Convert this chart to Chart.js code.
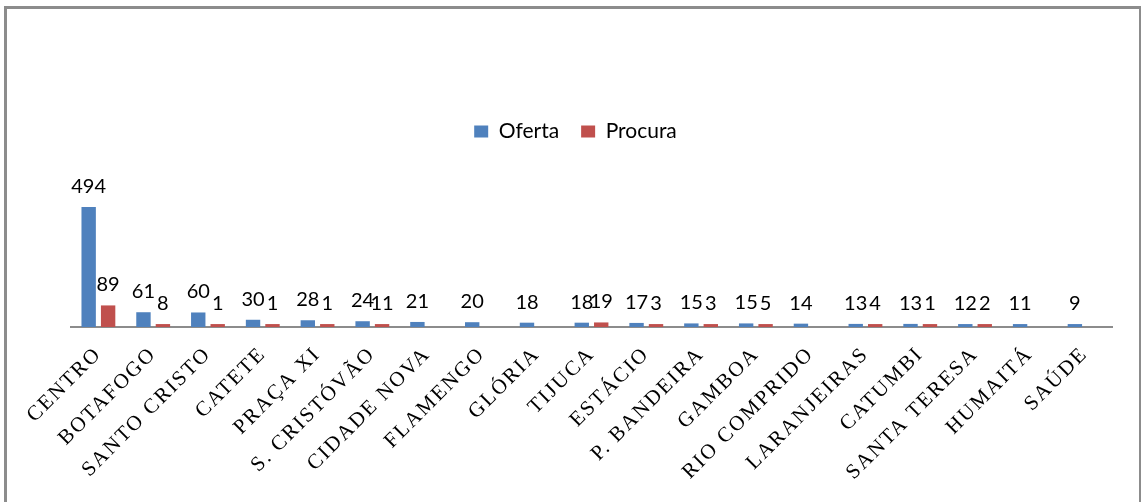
<!DOCTYPE html>
<html>
<head>
<meta charset="utf-8">
<script src="https://cdn.jsdelivr.net/npm/chart.js@4"></script>
<style>
  html, body { margin: 0; padding: 0; background: #fff; overflow: hidden; }
  #frame { position: absolute; left: 4px; top: 6px; width: 1132px; height: 600px;
           border: 3px solid #8c8c8c; border-bottom: none; }
  #wrap { position: absolute; left: 0; top: 0; width: 1141px; height: 502px; }
</style>
</head>
<body>
<div id="frame"></div>
<div id="wrap"><canvas id="c" width="1141" height="502"></canvas></div>
<script>
const categories = ["CENTRO", "BOTAFOGO", "SANTO CRISTO", "CATETE", "PRAÇA XI", "S. CRISTÓVÃO",
  "CIDADE NOVA", "FLAMENGO", "GLÓRIA", "TIJUCA", "ESTÁCIO", "P. BANDEIRA", "GAMBOA",
  "RIO COMPRIDO", "LARANJEIRAS", "CATUMBI", "SANTA TERESA", "HUMAITÁ", "SAÚDE"];
const oferta  = [494, 61, 60, 30, 28, 24, 21, 20, 18, 18, 17, 15, 15, 14, 13, 13, 12, 11, 9];
const procura = [89, 8, 1, 1, 1, 11, null, null, null, 19, 3, 3, 5, null, 4, 1, 2, null, null];
const seriesNames = ["Oferta", "Procura"];
const seriesColors = ["#4F81BD", "#C0504D"];

const valueLabels = {
  id: 'valueLabels',
  afterDatasetsDraw(chart) {
    const ctx = chart.ctx;
    ctx.save();
    ctx.font = '20px Lato';
    ctx.fillStyle = '#000';
    ctx.textAlign = 'center';
    ctx.textBaseline = 'alphabetic';
    chart.data.datasets.forEach((ds, di) => {
      const meta = chart.getDatasetMeta(di);
      meta.data.forEach((el, i) => {
        const v = ds.data[i];
        if (v === null || v === undefined) return;
        ctx.fillText(String(v), el.x, el.y - 14);
      });
    });
    ctx.restore();
  }
};

// centre the legend on the whole frame, and space out the category letters
const tweaks = {
  id: 'tweaks',
  afterLayout(chart) {
    const lg = chart.legend;
    if (lg) { lg.left -= 16; lg.right -= 16; }
  },
  afterUpdate(chart) {
    const xs = chart.scales.x;
    if (xs && !xs._spaced) {
      const orig = xs.drawLabels;
      xs.drawLabels = function (area) {
        const c = this.ctx;
        c.save();
        c.letterSpacing = '2px';
        orig.call(this, area);
        c.restore();
      };
      xs._spaced = true;
    }
  }
};

new Chart(document.getElementById('c'), {
  type: 'bar',
  data: {
    labels: categories,
    datasets: [
      { label: seriesNames[0], data: oferta, backgroundColor: seriesColors[0],
        categoryPercentage: 0.71, barPercentage: 0.74, minBarLength: 3 },
      { label: seriesNames[1], data: procura, backgroundColor: seriesColors[1],
        categoryPercentage: 0.71, barPercentage: 0.74, minBarLength: 3 }
    ]
  },
  options: {
    responsive: false,
    animation: false,
    layout: { padding: { top: 99, left: 71, right: 29, bottom: 19 } },
    plugins: {
      legend: {
        position: 'top',
        labels: { boxWidth: 14, boxHeight: 12, padding: 22, color: '#000',
                  font: { family: 'Lato', size: 21 } }
      },
      tooltip: { enabled: false }
    },
    scales: {
      x: {
        grid: { display: false, drawTicks: false },
        border: { display: true, color: '#8c8c8c', width: 2 },
        ticks: { color: '#000', font: { family: 'Liberation Serif', size: 21 },
                 minRotation: 45, maxRotation: 45, padding: 15, autoSkip: false }
      },
      y: {
        display: false,
        min: 0, max: 720
      }
    }
  },
  plugins: [valueLabels, tweaks]
});
</script>
</body>
</html>
